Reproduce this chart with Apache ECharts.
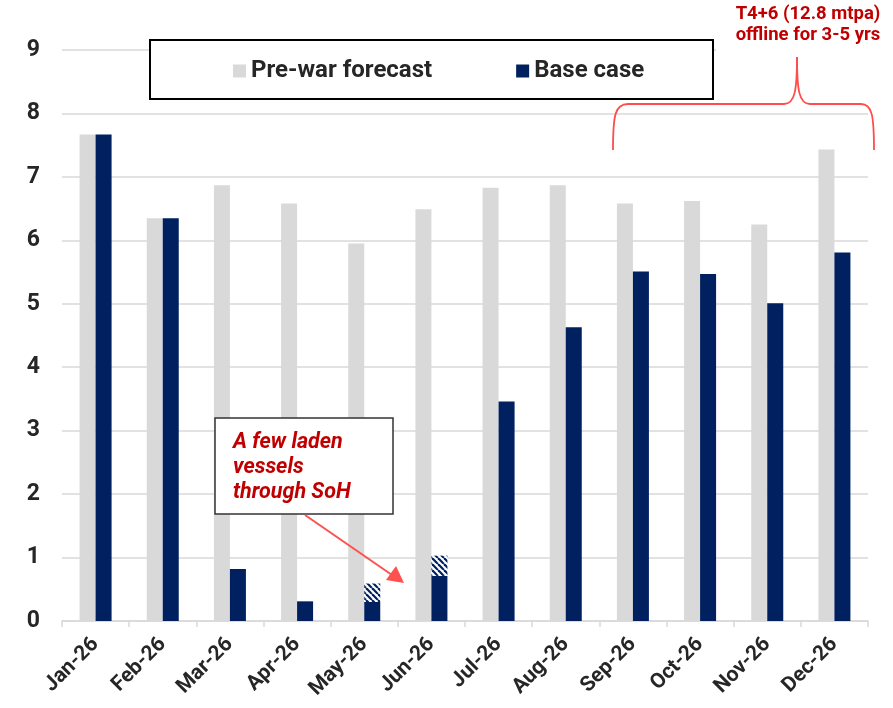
<!DOCTYPE html>
<html><head><meta charset="utf-8">
<script src="https://cdn.jsdelivr.net/npm/echarts@6/dist/echarts.min.js"></script>
<style>html,body{margin:0;padding:0;background:#fff}#c{width:893px;height:708px}</style>
</head><body><div id="c"></div>
<script>
const categories = ['Jan-26','Feb-26','Mar-26','Apr-26','May-26','Jun-26','Jul-26','Aug-26','Sep-26','Oct-26','Nov-26','Dec-26'];
const preWar = [7.67,6.35,6.87,6.58,5.95,6.49,6.83,6.87,6.58,6.62,6.25,7.43];
const baseCase = [7.67,6.35,0.82,0.31,0.30,0.71,3.46,4.63,5.51,5.47,5.01,5.81];
const ladenExtra = ['-','-','-','-',0.29,0.32,'-','-','-','-','-','-'];
const yTicks = [0,9,1];

const pc = document.createElement('canvas');
pc.width = 6; pc.height = 6;
const g = pc.getContext('2d');
g.fillStyle = '#ffffff'; g.fillRect(0,0,6,6);
g.strokeStyle = '#002060'; g.lineWidth = 2.2;
for (let k=-6;k<=12;k+=6){ g.beginPath(); g.moveTo(k,0); g.lineTo(k+6,6); g.stroke(); }

const FONT = 'Roboto';
const RED = '#ff4d4d';
const br = {stroke:RED,lineWidth:1.8,fill:'none'};
const chart = echarts.init(document.getElementById('c'));
chart.setOption({
  animation:false,
  textStyle:{fontFamily:FONT},
  grid:{left:62,right:25,top:50,bottom:87},
  legend:{
    data:['Pre-war forecast','Base case'],
    left:228, top:54, icon:'rect', itemWidth:13, itemHeight:13, itemGap:84, itemTextGap:6, z:5,
    textStyle:{fontFamily:FONT,fontSize:24,fontWeight:'bold',color:'#262626'}
  },
  xAxis:{
    type:'category', data:categories,
    axisLine:{lineStyle:{color:'#d9d9d9',width:1.5}},
    axisTick:{show:true,length:6,lineStyle:{color:'#d9d9d9',width:1.5}},
    axisLabel:{rotate:45,fontSize:21,fontWeight:'bold',color:'#262626',margin:20,fontFamily:FONT}
  },
  yAxis:{
    type:'value', min:yTicks[0], max:yTicks[1], interval:yTicks[2],
    axisLine:{show:false}, axisTick:{show:false},
    splitLine:{lineStyle:{color:'#d9d9d9',width:1.5}},
    axisLabel:{fontSize:23,fontWeight:'bold',color:'#262626',margin:22,fontFamily:FONT}
  },
  series:[
    {name:'Pre-war forecast',type:'bar',data:preWar,barWidth:16,barGap:'0%',itemStyle:{color:'#d9d9d9'}},
    {name:'Base case',type:'bar',stack:'b',data:baseCase,barWidth:16,itemStyle:{color:'#002060'}},
    {name:'Laden',type:'bar',stack:'b',data:ladenExtra,barWidth:16,itemStyle:{color:{image:pc,repeat:'repeat'}}}
  ],
  graphic:[
    {type:'rect',z:3,shape:{x:716,y:0,width:177,height:56},style:{fill:'#fff'}},
    {type:'rect',z:3,shape:{x:150,y:40,width:563,height:59},style:{fill:'#fff',stroke:'#000',lineWidth:2}},
    {type:'rect',z:10,shape:{x:215,y:418,width:178,height:96},style:{fill:'#fff',stroke:'#333',lineWidth:1.5}},
    {type:'text',z:11,x:233,y:430,style:{text:'A few laden\nvessels\nthrough SoH',fill:'#c00000',font:'italic bold 21.5px Roboto',lineHeight:25}},
    {type:'line',z:10,shape:{x1:305,y1:515,x2:392,y2:575},style:{stroke:'#ff5050',lineWidth:2}},
    {type:'polygon',z:10,shape:{points:[[404,583],[386,580],[396,566]]},style:{fill:'#ff5050'}},
    {type:'bezierCurve',z:10,shape:{x1:613,y1:150,cpx1:613,cpy1:115,cpx2:615,cpy2:104,x2:628,y2:104},style:br},
    {type:'line',z:10,shape:{x1:628,y1:104,x2:784,y2:104},style:br},
    {type:'bezierCurve',z:10,shape:{x1:784,y1:104,cpx1:795,cpy1:104,cpx2:797,cpy2:90,x2:797,y2:57},style:br},
    {type:'bezierCurve',z:10,shape:{x1:797,y1:57,cpx1:797,cpy1:90,cpx2:799,cpy2:104,x2:810,y2:104},style:br},
    {type:'line',z:10,shape:{x1:810,y1:104,x2:861,y2:104},style:br},
    {type:'bezierCurve',z:10,shape:{x1:861,y1:104,cpx1:872,cpy1:104,cpx2:874,cpy2:115,x2:874,y2:150},style:br},
    {type:'text',z:11,x:808,y:4,style:{text:'T4+6 (12.8 mtpa)\noffline for 3-5 yrs',fill:'#c00000',font:'bold 18.5px Roboto',lineHeight:21,align:'center'}}
  ]
});
</script></body></html>
